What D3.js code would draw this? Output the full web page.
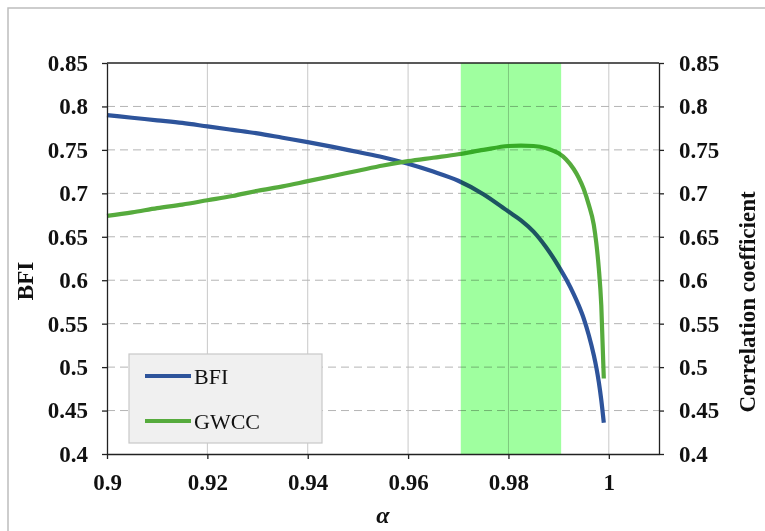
<!DOCTYPE html>
<html>
<head>
<meta charset="utf-8">
<script src="https://cdn.jsdelivr.net/npm/d3@7/dist/d3.min.js"></script>
<style>
  html, body { margin: 0; padding: 0; background: #fff; }
  svg { display: block; }
  text { font-family: "Liberation Serif", "Times New Roman", serif; }
</style>
</head>
<body>
<svg id="chart" width="765" height="531"></svg>
<script>
// Smoothing parameter alpha and the two responses
const alpha = [0.900, 0.905, 0.910, 0.915, 0.920, 0.925, 0.930, 0.935, 0.940, 0.945,
               0.950, 0.955, 0.960, 0.965, 0.970, 0.975, 0.980, 0.9825, 0.985, 0.9875,
               0.990, 0.9915, 0.993, 0.994, 0.995, 0.996, 0.997, 0.9975, 0.998, 0.9985, 0.999];
const bfi   = [0.790, 0.787, 0.784, 0.781, 0.777, 0.773, 0.769, 0.764, 0.759, 0.7535,
               0.7475, 0.7415, 0.734, 0.725, 0.7145, 0.699, 0.679, 0.669, 0.656, 0.638,
               0.616, 0.601, 0.584, 0.571, 0.556, 0.537, 0.514, 0.500, 0.483, 0.462, 0.436];
const gwcc  = [0.674, 0.678, 0.683, 0.687, 0.692, 0.697, 0.703, 0.708, 0.714, 0.720,
               0.726, 0.732, 0.737, 0.741, 0.745, 0.750, 0.7545, 0.755, 0.7545, 0.752,
               0.746, 0.739, 0.728, 0.718, 0.705, 0.687, 0.664, 0.643, 0.614, 0.571, 0.487];

// Highlighted alpha range
const bandRange = [0.9705, 0.9905];

// Axis ticks and labels
const xTicks = [0.90, 0.92, 0.94, 0.96, 0.98, 1.00];
const xTickLabels = ["0.9", "0.92", "0.94", "0.96", "0.98", "1"];
const yTicks = [0.40, 0.45, 0.50, 0.55, 0.60, 0.65, 0.70, 0.75, 0.80, 0.85];
const yTickLabels = ["0.4", "0.45", "0.5", "0.55", "0.6", "0.65", "0.7", "0.75", "0.8", "0.85"];

const seriesNames = ["BFI", "GWCC"];
const seriesColors = ["#2e549b", "#56ab3d"];

const svg = d3.select("#chart");
const plot = { left: 107, right: 659, top: 63, bottom: 454 };

const x = d3.scaleLinear().domain([0.9, 1.01]).range([plot.left, plot.right]);
const y = d3.scaleLinear().domain([0.4, 0.85]).range([plot.bottom, plot.top]);

// Outer frame
svg.append("rect")
  .attr("x", 8).attr("y", 8).attr("width", 780).attr("height", 560)
  .attr("fill", "none").attr("stroke", "#bdbdbd").attr("stroke-width", 1.5);

// Vertical solid gridlines
svg.append("g").selectAll("line")
  .data(xTicks.filter(d => d > 0.9))
  .join("line")
  .attr("x1", d => x(d)).attr("x2", d => x(d))
  .attr("y1", plot.top).attr("y2", plot.bottom)
  .attr("stroke", "#c8c8c8").attr("stroke-width", 1);

// Horizontal dashed gridlines
svg.append("g").selectAll("line")
  .data(yTicks.filter(d => d > 0.4 && d < 0.85))
  .join("line")
  .attr("x1", plot.left).attr("x2", plot.right)
  .attr("y1", d => y(d)).attr("y2", d => y(d))
  .attr("stroke", "#b4b4b4").attr("stroke-width", 1)
  .attr("stroke-dasharray", "8,5");

// Series lines
const line = d3.line().curve(d3.curveMonotoneX);
const seriesValues = [bfi, gwcc];
seriesValues.forEach((vals, i) => {
  svg.append("path")
    .attr("d", line(alpha.map((a, k) => [x(a), y(vals[k])])))
    .attr("fill", "none")
    .attr("stroke", seriesColors[i])
    .attr("stroke-width", 4.2)
    .attr("stroke-linejoin", "round");
});

// Highlight band, multiplied over the lines and grid
svg.append("rect")
  .attr("x", x(bandRange[0]))
  .attr("y", plot.top)
  .attr("width", x(bandRange[1]) - x(bandRange[0]))
  .attr("height", plot.bottom - plot.top)
  .attr("fill", "#9fff9f")
  .style("mix-blend-mode", "multiply");

// Axes
const fmtX = d => xTickLabels[xTicks.indexOf(d)];
const fmtY = d => yTickLabels[yTicks.indexOf(d)];

function styleAxis(g) {
  g.select(".domain").attr("stroke", "#222").attr("stroke-width", 1.3);
  g.selectAll(".tick line").attr("stroke", "#222").attr("stroke-width", 1.3);
  g.selectAll(".tick text")
    .attr("fill", "#111")
    .style("font-family", "'Liberation Serif', 'Times New Roman', serif")
    .style("font-weight", "bold")
    .style("font-size", "23px");
}

svg.append("g")
  .attr("transform", `translate(0,${plot.bottom})`)
  .call(d3.axisBottom(x).tickValues(xTicks).tickFormat(fmtX).tickSizeInner(5).tickSizeOuter(0).tickPadding(15))
  .call(styleAxis);

svg.append("g")
  .attr("transform", `translate(${plot.left},0)`)
  .call(d3.axisLeft(y).tickValues(yTicks).tickFormat(fmtY).tickSizeInner(5).tickSizeOuter(0).tickPadding(14))
  .call(styleAxis);

svg.append("g")
  .attr("transform", `translate(${plot.right},0)`)
  .call(d3.axisRight(y).tickValues(yTicks).tickFormat(fmtY).tickSizeInner(5).tickSizeOuter(0).tickPadding(15))
  .call(styleAxis);

// Top border of the plot area
svg.append("line")
  .attr("x1", plot.left).attr("x2", plot.right)
  .attr("y1", plot.top).attr("y2", plot.top)
  .attr("stroke", "#222").attr("stroke-width", 1.3);

// Axis titles
svg.append("text")
  .attr("transform", "translate(33,281) rotate(-90)")
  .attr("text-anchor", "middle")
  .style("font-weight", "bold").style("font-size", "23px").attr("fill", "#111")
  .text("BFI");

svg.append("text")
  .attr("transform", "translate(755,302) rotate(-90)")
  .attr("text-anchor", "middle")
  .style("font-weight", "bold").style("font-size", "23px").attr("fill", "#111")
  .text("Correlation coefficient");

svg.append("text")
  .attr("x", (plot.left + plot.right) / 2).attr("y", 523)
  .attr("text-anchor", "middle")
  .style("font-style", "italic").style("font-weight", "bold")
  .style("font-size", "24px").attr("fill", "#111")
  .text("α");

// Legend
const legend = svg.append("g");
legend.append("rect")
  .attr("x", 129).attr("y", 354).attr("width", 193).attr("height", 89)
  .attr("fill", "#f0f0f0").attr("stroke", "#c8c8c8").attr("stroke-width", 1.2);
const legendY = [376, 421];
seriesNames.forEach((name, i) => {
  legend.append("line")
    .attr("x1", 145).attr("x2", 191)
    .attr("y1", legendY[i]).attr("y2", legendY[i])
    .attr("stroke", seriesColors[i]).attr("stroke-width", 4);
  legend.append("text")
    .attr("x", 194).attr("y", legendY[i] + 8)
    .style("font-size", "22px").attr("fill", "#111")
    .text(name);
});
</script>
</body>
</html>
